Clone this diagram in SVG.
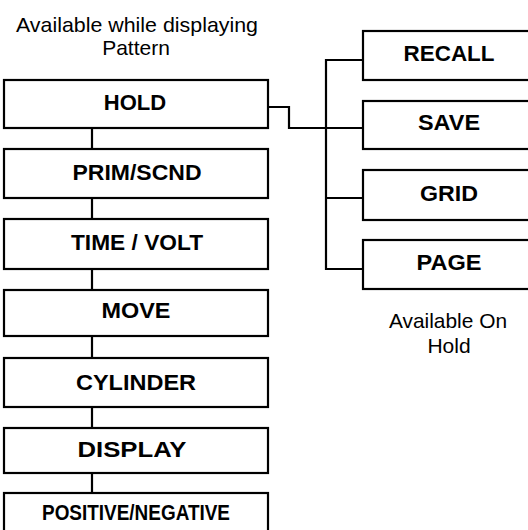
<svg xmlns="http://www.w3.org/2000/svg" width="528" height="530" viewBox="0 0 528 530">
<style>
.box{fill:#fff;stroke:#000;stroke-width:2.2}
.lbl{font-family:"Liberation Sans",Arial,sans-serif;font-size:22px;font-weight:bold;text-anchor:middle;fill:#000}
.note{font-family:"Liberation Sans",Arial,sans-serif;font-size:21px;text-anchor:middle;fill:#000}
.conn{fill:none;stroke:#000;stroke-width:2.2}
</style>
<rect width="528" height="530" fill="#fff"/>
<text class="note" x="137" y="32" textLength="242" lengthAdjust="spacingAndGlyphs">Available while displaying</text>
<text class="note" x="136" y="55">Pattern</text>
<text class="note" x="448" y="328" textLength="118" lengthAdjust="spacingAndGlyphs">Available On</text>
<text class="note" x="449" y="353">Hold</text>
<g id="connectors">
<path class="conn" d="M92 128V149M92 198V219M92 269V290M92 336V358M92 407V428M92 473V493"/>
<path class="conn" d="M268 107H289V128H363"/>
<path class="conn" d="M363 60H326V269H363M326 198H363"/>
</g>
<g id="hold"><rect class="box" x="4" y="80" width="264" height="48"/><text class="lbl" x="135" y="110">HOLD</text></g>
<g id="prim"><rect class="box" x="4" y="149" width="264" height="49"/><text class="lbl" x="137" y="180" textLength="129" lengthAdjust="spacingAndGlyphs">PRIM/SCND</text></g>
<g id="timevolt"><rect class="box" x="4" y="219" width="264" height="50"/><text class="lbl" x="137" y="250" textLength="132" lengthAdjust="spacingAndGlyphs">TIME / VOLT</text></g>
<g id="move"><rect class="box" x="4" y="290" width="264" height="46"/><text class="lbl" x="136" y="318" textLength="69" lengthAdjust="spacingAndGlyphs">MOVE</text></g>
<g id="cylinder"><rect class="box" x="4" y="358" width="264" height="49"/><text class="lbl" x="136" y="390" textLength="120" lengthAdjust="spacingAndGlyphs">CYLINDER</text></g>
<g id="display"><rect class="box" x="4" y="428" width="264" height="45"/><text class="lbl" x="132" y="457" textLength="109" lengthAdjust="spacingAndGlyphs">DISPLAY</text></g>
<g id="posneg"><rect class="box" x="4" y="493" width="264" height="45"/><text class="lbl" x="136" y="520" textLength="188" lengthAdjust="spacingAndGlyphs">POSITIVE/NEGATIVE</text></g>
<g id="recall"><rect class="box" x="363" y="31" width="180" height="49"/><text class="lbl" x="449" y="61" textLength="91" lengthAdjust="spacingAndGlyphs">RECALL</text></g>
<g id="save"><rect class="box" x="363" y="101" width="180" height="48"/><text class="lbl" x="449" y="130" textLength="62" lengthAdjust="spacingAndGlyphs">SAVE</text></g>
<g id="grid"><rect class="box" x="363" y="170" width="180" height="50"/><text class="lbl" x="449" y="201" textLength="58" lengthAdjust="spacingAndGlyphs">GRID</text></g>
<g id="page"><rect class="box" x="363" y="240" width="180" height="49"/><text class="lbl" x="449" y="270" textLength="65" lengthAdjust="spacingAndGlyphs">PAGE</text></g>
</svg>
